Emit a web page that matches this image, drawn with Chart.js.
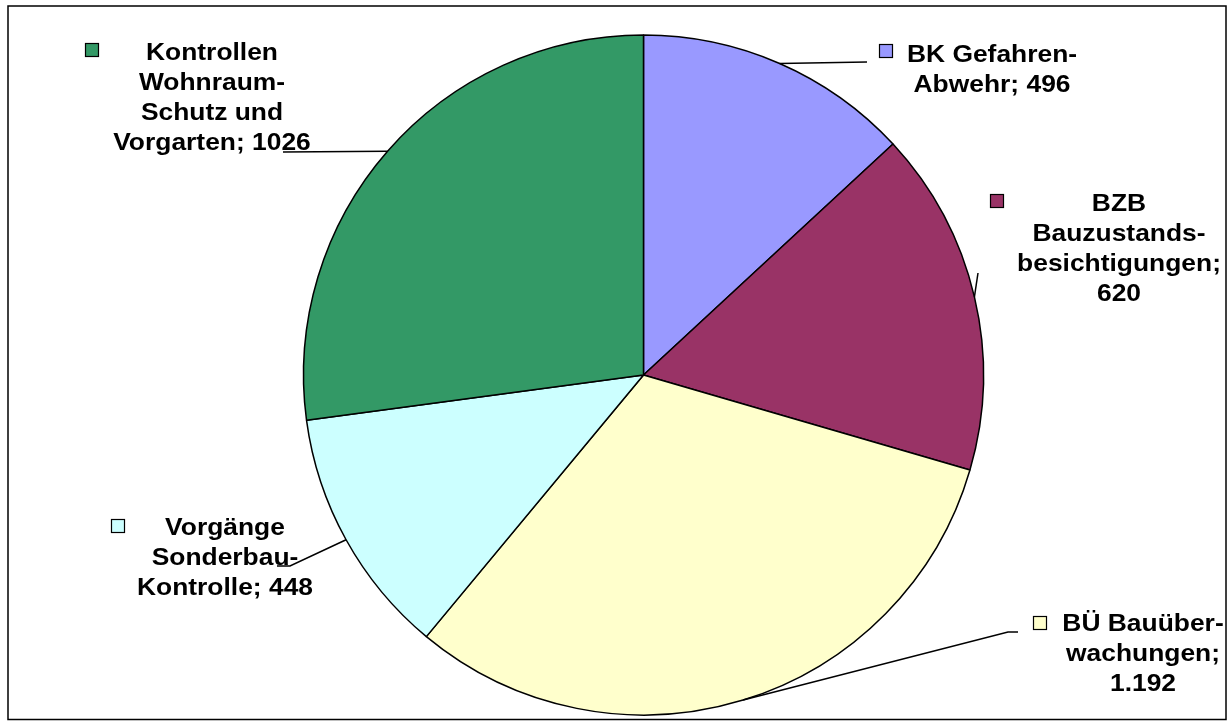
<!DOCTYPE html>
<html>
<head>
<meta charset="utf-8">
<script src="https://cdn.jsdelivr.net/npm/chart.js@4/dist/chart.umd.min.js"></script>
<style>
  html, body { margin: 0; padding: 0; background: #fff; }
</style>
</head>
<body>
<canvas id="pieChart" width="1230" height="722"></canvas>
<script>
// data, clockwise from 12 o'clock
const categories = [
    'BK Gefahren-Abwehr',
    'BZB Bauzustandsbesichtigungen',
    'BÜ Bauüberwachungen',
    'Vorgänge Sonderbau-Kontrolle',
    'Kontrollen Wohnraum-Schutz und Vorgarten'
];
const values = [496, 620, 1192, 448, 1026];
const valueLabels = ['496', '620', '1.192', '448', '1026'];
// how the category names are wrapped in the labels
const nameLines = [
    ['BK Gefahren-', 'Abwehr'],
    ['BZB', 'Bauzustands-', 'besichtigungen'],
    ['BÜ Bauüber-', 'wachungen'],
    ['Vorgänge', 'Sonderbau-', 'Kontrolle'],
    ['Kontrollen', 'Wohnraum-', 'Schutz und', 'Vorgarten']
];
const colors = ['#9999FF', '#993366', '#FFFFCC', '#CCFFFF', '#339966'];

// label placement (key box, text centre, first baseline, leader bends)
const labelLayout = [
    {key: [879, 44], cx: 992, y0: 62, leader: [[867, 62]], valueOwnLine: false},
    {key: [990, 194], cx: 1119, y0: 210.5, leader: [[978, 273]], valueOwnLine: true},
    {key: [1033, 616], cx: 1143, y0: 630.5, leader: [[1008, 632], [1018, 632]], valueOwnLine: true},
    {key: [111, 519], cx: 225, y0: 535, leader: [[290, 566], [277, 566]], valueOwnLine: false},
    {key: [85, 43], cx: 212, y0: 59.5, leader: [[283, 152]], valueOwnLine: false}
];

const frame = {
    id: 'frame',
    beforeDraw(chart) {
        const ctx = chart.ctx;
        ctx.save();
        ctx.fillStyle = '#fff';
        ctx.fillRect(0, 0, chart.width, chart.height);
        ctx.restore();
    },
    afterDraw(chart) {
        const ctx = chart.ctx;
        ctx.save();
        ctx.strokeStyle = '#000';
        ctx.lineWidth = 1.5;
        ctx.strokeRect(8, 6, 1218, 713.5);
        ctx.restore();
    }
};

const pieLabels = {
    id: 'pieLabels',
    afterDatasetsDraw(chart) {
        const ctx = chart.ctx;
        const meta = chart.getDatasetMeta(0);
        ctx.save();
        meta.data.forEach((arc, i) => {
            const lay = labelLayout[i];
            const mid = (arc.startAngle + arc.endAngle) / 2;
            const sx = arc.x + Math.cos(mid) * arc.outerRadius;
            const sy = arc.y + Math.sin(mid) * arc.outerRadius;

            // leader line
            ctx.strokeStyle = '#000';
            ctx.lineWidth = 1.5;
            ctx.beginPath();
            ctx.moveTo(sx, sy);
            lay.leader.forEach(p => ctx.lineTo(p[0], p[1]));
            ctx.stroke();

            // legend key
            ctx.fillStyle = colors[i];
            ctx.fillRect(lay.key[0], lay.key[1], 14, 14);
            ctx.lineWidth = 1.2;
            ctx.strokeRect(lay.key[0] + 0.5, lay.key[1] + 0.5, 13, 13);

            // text
            const lines = nameLines[i].slice();
            const last = lines.length - 1;
            if (lay.valueOwnLine) {
                lines[last] = lines[last] + ';';
                lines.push(valueLabels[i]);
            } else {
                lines[last] = lines[last] + '; ' + valueLabels[i];
            }
            ctx.fillStyle = '#000';
            ctx.font = 'bold 24px "Liberation Sans", Arial, sans-serif';
            ctx.textAlign = 'center';
            ctx.textBaseline = 'alphabetic';
            lines.forEach((t, k) => {
                ctx.save();
                ctx.translate(lay.cx, lay.y0 + k * 30);
                ctx.scale(1.1, 1);
                ctx.fillText(t, 0, 0);
                ctx.restore();
            });
        });
        ctx.restore();
    }
};

const config = {
    type: 'pie',
    data: {
        labels: categories,
        datasets: [{
            data: values,
            backgroundColor: colors,
            borderColor: '#000',
            borderWidth: 1.5
        }]
    },
    options: {
        responsive: false,
        animation: false,
        radius: 340,
        layout: {
            padding: {top: 35, bottom: 7, left: 303, right: 246}
        },
        plugins: {
            legend: {display: false},
            tooltip: {enabled: false}
        }
    },
    plugins: [frame, pieLabels]
};

const pieChart = new Chart(document.getElementById('pieChart'), config);
</script>
</body>
</html>
